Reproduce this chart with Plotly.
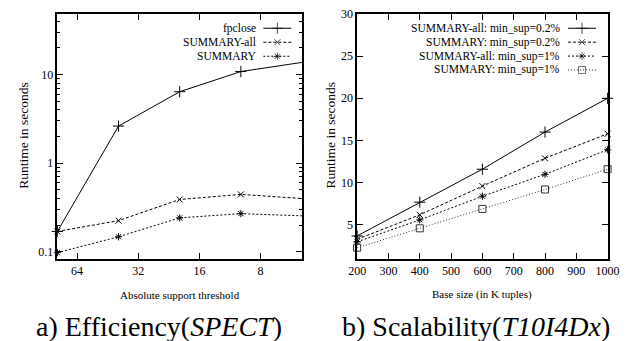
import math
import plotly.graph_objects as go

# ---------------- data ----------------
support_thresholds = [80, 40, 20, 10, 5]
fpclose_rt = [0.17, 2.62, 6.4, 10.8, 13.7]
summary_all_rt = [0.17, 0.225, 0.39, 0.445, 0.40]
summary_rt = [0.098, 0.148, 0.242, 0.27, 0.255]
support_ticks = [64, 32, 16, 8]

base_sizes = [200, 400, 600, 800, 1000]
sa_02 = [3.7, 7.7, 11.6, 16.0, 20.0]
s_02 = [3.3, 6.2, 9.6, 12.9, 15.8]
sa_1 = [3.0, 5.6, 8.4, 11.0, 13.9]
s_1 = [2.3, 4.6, 6.9, 9.2, 11.6]

left_names = ["fpclose", "SUMMARY-all", "SUMMARY"]
right_names = ["SUMMARY-all: min_sup=0.2%", "SUMMARY: min_sup=0.2%",
               "SUMMARY-all: min_sup=1%", "SUMMARY: min_sup=1%"]

# ---------------- layout helpers ----------------
W, H = 638, 341
FONT = "Liberation Serif, Times New Roman, Times, serif"


def px(x):
    return x / W


def py(y):
    return 1 - y / H


left_styles = [
    dict(dash="solid", symbol="cross-thin-open", size=8, color="black"),
    dict(dash="3px,2px", symbol="x-thin-open", size=6, color="black"),
    dict(dash="2px,2px", symbol="asterisk-open", size=6, color="black"),
]
right_styles = [
    dict(dash="solid", symbol="cross-thin-open", size=8, color="black"),
    dict(dash="3px,2px", symbol="x-thin-open", size=6, color="black"),
    dict(dash="2px,2px", symbol="asterisk-open", size=6, color="black"),
    dict(dash="1px,2px", symbol="square-open", size=7, color="#333333"),
]

fig = go.Figure()

left_series = [fpclose_rt, summary_all_rt, summary_rt]
for name, ys, st in zip(left_names, left_series, left_styles):
    fig.add_trace(go.Scatter(
        x=support_thresholds, y=ys, name=name, mode="lines+markers",
        xaxis="x", yaxis="y", showlegend=False, cliponaxis=False,
        line=dict(color=st["color"], width=1, dash=st["dash"]),
        marker=dict(symbol=st["symbol"], size=st["size"], color=st["color"],
                    line=dict(color=st["color"], width=1)),
    ))

right_series = [sa_02, s_02, sa_1, s_1]
for name, ys, st in zip(right_names, right_series, right_styles):
    fig.add_trace(go.Scatter(
        x=base_sizes, y=ys, name=name, mode="lines+markers",
        xaxis="x2", yaxis="y2", showlegend=False, cliponaxis=False,
        line=dict(color=st["color"], width=1, dash=st["dash"]),
        marker=dict(symbol=st["symbol"], size=st["size"], color=st["color"],
                    line=dict(color=st["color"], width=1)),
    ))

# ---------------- manual legends (text left, key right) ----------------
annotations = []


def add_legend(names, styles, text_right, key_x0, key_x1, row0, step):
    for i, (name, st) in enumerate(zip(names, styles)):
        yrow = row0 + i * step
        annotations.append(dict(
            xref="paper", yref="paper", x=px(text_right), y=py(yrow),
            xanchor="right", yanchor="middle", text=name, showarrow=False,
            font=dict(family=FONT, size=11.5, color="black")))
        xm = (key_x0 + key_x1) / 2
        fig.add_trace(go.Scatter(
            x=[key_x0, xm, key_x1], y=[yrow, yrow, yrow], mode="lines+markers",
            xaxis="x3", yaxis="y3", showlegend=False, hoverinfo="skip",
            line=dict(color=st["color"], width=1, dash=st["dash"]),
            marker=dict(symbol=st["symbol"], size=[0, st["size"], 0],
                        color=st["color"], line=dict(color=st["color"], width=1)),
        ))


add_legend(left_names, left_styles, 257, 263, 292, 21.7, 14.3)
add_legend(right_names, right_styles, 572, 578, 607, 21.7, 14.2)

# ---------------- axis titles & captions ----------------
LX0, LX1, RX0, RX1, TOP, BOT = 50, 303, 360, 619, 7, 257

annotations += [
    dict(xref="paper", yref="paper", x=px((LX0 + LX1) / 2), y=py(294),
         text="Absolute support threshold", showarrow=False,
         xanchor="center", yanchor="middle",
         font=dict(family=FONT, size=11, color="black")),
    dict(xref="paper", yref="paper", x=px((RX0 + RX1) / 2), y=py(294),
         text="Base size (in K tuples)", showarrow=False,
         xanchor="center", yanchor="middle",
         font=dict(family=FONT, size=11, color="black")),
    dict(xref="paper", yref="paper", x=px(15), y=py(131),
         text="Runtime in seconds", showarrow=False, textangle=-90,
         xanchor="center", yanchor="middle",
         font=dict(family=FONT, size=13.5, color="black")),
    dict(xref="paper", yref="paper", x=px(332), y=py(131),
         text="Runtime in seconds", showarrow=False, textangle=-90,
         xanchor="center", yanchor="middle",
         font=dict(family=FONT, size=13.5, color="black")),
    dict(xref="paper", yref="paper", x=px(155), y=py(326),
         text="a) Efficiency(<i>SPECT</i>)", showarrow=False,
         xanchor="center", yanchor="middle",
         font=dict(family=FONT, size=28, color="black")),
    dict(xref="paper", yref="paper", x=px(483), y=py(326),
         text="b) Scalability(<i>T10I4Dx</i>)", showarrow=False,
         xanchor="center", yanchor="middle",
         font=dict(family=FONT, size=28, color="black")),
]

axis_common = dict(
    showline=True, linecolor="black", linewidth=1.5, mirror="allticks",
    ticks="inside", ticklen=6, tickwidth=1, tickcolor="black",
    showgrid=False, zeroline=False, fixedrange=True,
    tickfont=dict(family=FONT, size=12, color="black"),
)

minor_vals = [v * m for v in (0.1, 1, 10) for m in range(2, 10) if v * m < 48]

fig.update_layout(
    width=W, height=H,
    margin=dict(l=0, r=0, t=0, b=0),
    paper_bgcolor="white", plot_bgcolor="rgba(0,0,0,0)",
    font=dict(family=FONT, color="black"),
    xaxis=dict(axis_common, domain=[px(LX0), px(LX1)], anchor="y", type="log",
               range=[math.log10(80), math.log10(5)],
               tickmode="array", tickvals=support_ticks,
               ticktext=[str(v) for v in support_ticks]),
    yaxis=dict(axis_common, domain=[py(BOT), py(TOP)], anchor="x", type="log",
               range=[-1.077, 1.684], tickmode="array",
               tickvals=[0.1, 1, 10], ticktext=["0.1", "1", "10"],
               minor=dict(tickmode="array", tickvals=minor_vals, ticks="inside",
                          ticklen=3, tickcolor="black", tickwidth=1)),
    xaxis2=dict(axis_common, domain=[px(RX0), px(RX1)], anchor="y2",
                range=[200, 1000], tickmode="linear", tick0=200, dtick=100),
    yaxis2=dict(axis_common, domain=[py(BOT), py(TOP)], anchor="x2",
                range=[1, 30], tickmode="array", tickvals=[5, 10, 15, 20, 25, 30]),
    xaxis3=dict(domain=[0, 1], anchor="y3", range=[0, W], visible=False,
                fixedrange=True),
    yaxis3=dict(domain=[0, 1], anchor="x3", range=[H, 0], visible=False,
                fixedrange=True),
    annotations=annotations,
    showlegend=False,
)

fig.write_html(
    "out.html",
    config={"displayModeBar": False},
    post_script="document.body.style.margin='0';document.body.style.padding='0';",
)
